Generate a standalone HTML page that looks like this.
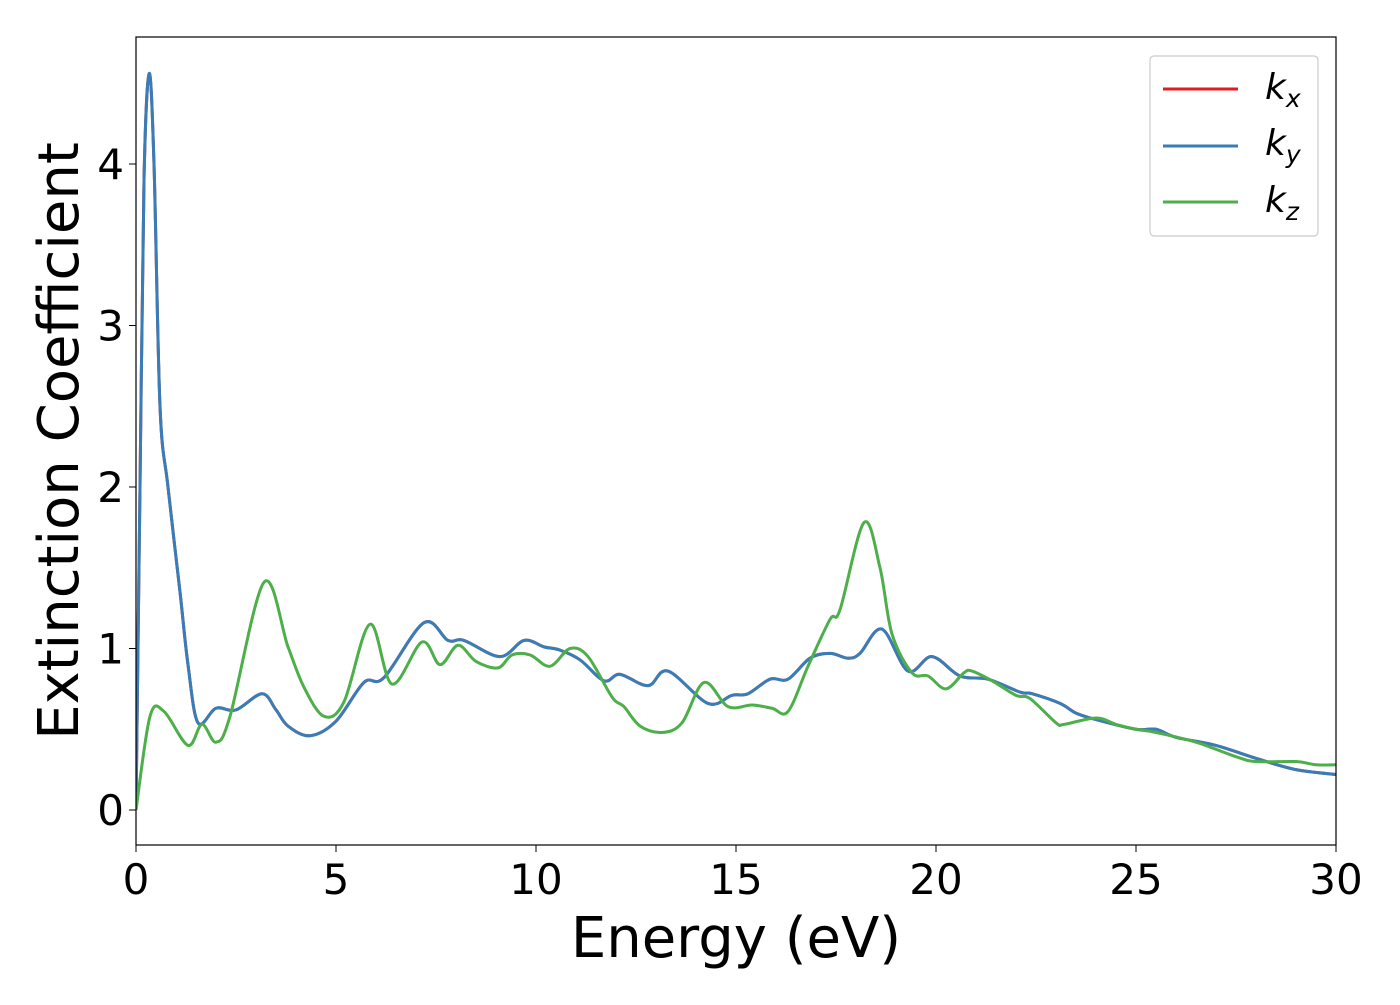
<!DOCTYPE html>
<html><head><meta charset="utf-8"><style>
body{margin:0;background:#fff;font-family:"Liberation Sans","DejaVu Sans",sans-serif}
svg text{font-family:"DejaVu Sans","Liberation Sans",sans-serif}
</style></head><body>
<svg id="chart" width="1400" height="1000" xmlns="http://www.w3.org/2000/svg">
<rect x="0" y="0" width="1400" height="1000" fill="#fff"/>
<g id="series"></g>
<rect x="136" y="37" width="1200" height="808" fill="none" stroke="#000" stroke-width="1.2"/>
<g id="axes"></g>
<text x="736" y="957" font-size="56" text-anchor="middle">Energy (eV)</text>
<text transform="translate(78,441) rotate(-90)" font-size="56" text-anchor="middle">Extinction Coefficient</text>
<g>
<rect x="1150" y="56" width="168" height="180" rx="4" fill="#fff" stroke="#ccc" stroke-width="1.2"/>
<line x1="1163" y1="89" x2="1238" y2="89" stroke="#e41a1c" stroke-width="3"/>
<text x="1265" y="99" font-size="36" font-style="italic">k<tspan font-size="25" dy="8">x</tspan></text>
<line x1="1163" y1="146" x2="1238" y2="146" stroke="#377eb8" stroke-width="3"/>
<text x="1265" y="155" font-size="36" font-style="italic">k<tspan font-size="25" dy="8">y</tspan></text>
<line x1="1163" y1="202" x2="1238" y2="202" stroke="#4daf4a" stroke-width="3"/>
<text x="1265" y="212" font-size="36" font-style="italic">k<tspan font-size="25" dy="8">z</tspan></text>
</g>
</svg>
<script>
const energyXY=[0,0.1,0.2,0.33,0.45,0.6,0.8,1.1,1.3,1.55,2.0,2.5,3.15,3.5,3.8,4.35,5.0,5.7,6.2,7.2,7.8,8.2,9.1,9.7,10.2,10.6,11.1,11.7,12.1,12.8,13.3,14.3,14.9,15.3,15.85,16.3,16.85,17.35,17.8,18.1,18.65,19.3,19.9,20.6,21.3,22.1,22.4,23.1,23.5,24,25,25.5,26,27,28,29,30];
const kxValues=[0,2.0,3.9,4.56,4.0,2.5,2.0,1.35,0.9,0.54,0.63,0.62,0.72,0.62,0.52,0.46,0.55,0.79,0.82,1.16,1.05,1.05,0.95,1.05,1.01,0.99,0.93,0.80,0.84,0.77,0.86,0.66,0.71,0.72,0.81,0.81,0.94,0.97,0.94,0.97,1.12,0.86,0.95,0.83,0.81,0.73,0.72,0.66,0.60,0.56,0.50,0.50,0.45,0.40,0.32,0.25,0.22];
const kyValues=kxValues.slice();
const energyZ=[0,0.35,0.7,1.3,1.65,2.0,2.35,3.2,3.8,4.2,4.7,5.2,5.85,6.4,7.15,7.6,8.05,8.5,9.05,9.4,9.85,10.35,10.85,11.3,11.9,12.2,12.6,13.15,13.65,14.2,14.8,15.4,15.9,16.3,16.8,17.35,17.6,18.2,18.6,18.9,19.4,19.8,20.25,20.7,20.9,21.4,22.0,22.35,23.0,23.2,24,24.5,25,25.5,26.5,27.5,28,29,29.5,30];
const kzValues=[0,0.58,0.61,0.40,0.53,0.42,0.58,1.41,1.01,0.76,0.58,0.67,1.15,0.78,1.04,0.90,1.02,0.92,0.88,0.96,0.96,0.89,1.0,0.95,0.70,0.64,0.52,0.48,0.54,0.79,0.64,0.65,0.63,0.61,0.89,1.18,1.24,1.78,1.50,1.09,0.85,0.83,0.75,0.85,0.86,0.80,0.71,0.69,0.54,0.53,0.57,0.53,0.50,0.48,0.42,0.33,0.30,0.30,0.28,0.28];
const xTicks=[0,5,10,15,20,25,30];
const yTicks=[0,1,2,3,4];
const NS="http://www.w3.org/2000/svg";
const X=e=>136+e*40;
const Y=k=>810-k*161.5;
function pathFor(xs,ys){
  const p=xs.map((e,i)=>[X(e),Y(ys[i])]);
  let d="M"+p[0][0]+","+p[0][1];
  for(let i=0;i<p.length-1;i++){
    const p0=p[Math.max(0,i-1)],p1=p[i],p2=p[i+1],p3=p[Math.min(p.length-1,i+2)];
    const c1=[p1[0]+(p2[0]-p0[0])/6,p1[1]+(p2[1]-p0[1])/6];
    const c2=[p2[0]-(p3[0]-p1[0])/6,p2[1]-(p3[1]-p1[1])/6];
    d+=` C${c1[0]},${c1[1]} ${c2[0]},${c2[1]} ${p2[0]},${p2[1]}`;
  }
  return d;
}
const g=document.getElementById('series');
const cp=document.createElementNS(NS,'clipPath');cp.setAttribute('id','clip');
const cr=document.createElementNS(NS,'rect');cr.setAttribute('x',136);cr.setAttribute('y',37);cr.setAttribute('width',1200);cr.setAttribute('height',808);
cp.appendChild(cr);g.appendChild(cp);
g.setAttribute('clip-path','url(#clip)');
[[energyXY,kxValues,'#e41a1c','kx'],[energyXY,kyValues,'#377eb8','ky'],[energyZ,kzValues,'#4daf4a','kz']].forEach(s=>{
  const pa=document.createElementNS(NS,'path');
  pa.setAttribute('d',pathFor(s[0],s[1]));
  pa.setAttribute('fill','none');pa.setAttribute('stroke',s[2]);pa.setAttribute('stroke-width','3');
  
  
  g.appendChild(pa);
});
const ax=document.getElementById('axes');
xTicks.forEach(t=>{
  const l=document.createElementNS(NS,'line');
  l.setAttribute('x1',X(t));l.setAttribute('x2',X(t));l.setAttribute('y1',845);l.setAttribute('y2',852);l.setAttribute('stroke','#000');
  
  
  ax.appendChild(l);
  const tx=document.createElementNS(NS,'text');
  tx.setAttribute('x',X(t));tx.setAttribute('y',894);tx.setAttribute('font-size','42');tx.setAttribute('text-anchor','middle');
  tx.textContent=t;
  
  
  ax.appendChild(tx);
});
yTicks.forEach(t=>{
  const l=document.createElementNS(NS,'line');
  l.setAttribute('x1',129);l.setAttribute('x2',136);l.setAttribute('y1',Y(t));l.setAttribute('y2',Y(t));l.setAttribute('stroke','#000');
  
  
  ax.appendChild(l);
  const tx=document.createElementNS(NS,'text');
  tx.setAttribute('x',124);tx.setAttribute('y',Y(t)+15);tx.setAttribute('font-size','42');tx.setAttribute('text-anchor','end');
  tx.textContent=t;
  
  
  ax.appendChild(tx);
});
</script>
</body></html>
